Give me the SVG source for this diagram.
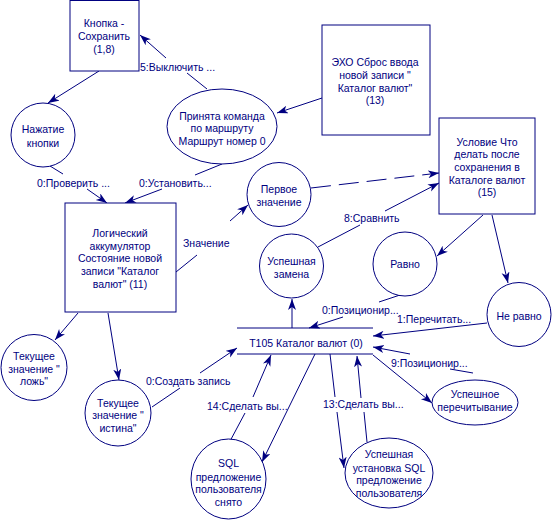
<svg xmlns="http://www.w3.org/2000/svg" width="552" height="521" viewBox="0 0 552 521">
<defs>
<marker id="ah" markerUnits="userSpaceOnUse" markerWidth="14" markerHeight="10" refX="11" refY="4" orient="auto">
<path d="M0,0 L11,4 L0,8 L3,4 z" fill="#000080"/>
</marker>
<style>
.n{fill:#fff;stroke:#000080;stroke-width:1}
.t{font-family:"Liberation Sans",Arial,sans-serif;font-size:10.5px;fill:#000080;text-anchor:middle}
.l{font-family:"Liberation Sans",Arial,sans-serif;font-size:10.5px;fill:#000080}
.c{fill:none;stroke:#000080;stroke-width:1}
.a{marker-end:url(#ah)}
.d{stroke-dasharray:20,8}
</style>
</defs>
<rect width="552" height="521" fill="#fff"/>

<g id="connectors">
<line class="c a" x1="99" y1="71" x2="48" y2="103"/>
<line class="c" x1="207" y1="89" x2="187" y2="73"/>
<line class="c a" x1="166" y1="58" x2="140" y2="35"/>
<line class="c a" x1="322" y1="98" x2="277" y2="113"/>
<line class="c" x1="50" y1="166" x2="63" y2="174"/>
<line class="c a" x1="87" y1="189" x2="107" y2="203"/>
<line class="c" x1="222" y1="164" x2="195" y2="175"/>
<line class="c a" x1="162" y1="189" x2="125" y2="203"/>
<line class="c" x1="176" y1="272" x2="197" y2="255"/>
<line class="c a" x1="230" y1="221" x2="248" y2="205"/>
<line class="c a d" x1="311" y1="188" x2="439" y2="173"/>
<line class="c" x1="318" y1="247" x2="360" y2="225"/>
<line class="c a" x1="385" y1="211" x2="439" y2="183"/>
<line class="c a" x1="483" y1="215" x2="437" y2="256"/>
<line class="c a" x1="492" y1="215" x2="508" y2="283"/>
<line class="c" x1="400" y1="295" x2="379" y2="302"/>
<line class="c a" x1="343" y1="317" x2="309" y2="328"/>
<line class="c a" x1="487" y1="323" x2="373" y2="336"/>
<line class="c" x1="473" y1="373" x2="450" y2="369"/>
<line class="c a" x1="410" y1="354" x2="373" y2="347"/>
<line class="c a" x1="373" y1="355" x2="432" y2="403"/>
<line class="c" x1="152" y1="407" x2="180" y2="388"/>
<line class="c a" x1="200" y1="373" x2="237" y2="348"/>
<line class="c" x1="229" y1="443" x2="245" y2="413"/>
<line class="c a" x1="253" y1="397" x2="271" y2="355"/>
<line class="c a" x1="315" y1="354" x2="262" y2="462"/>
<line class="c" x1="330" y1="354" x2="335" y2="397"/>
<line class="c a" x1="337" y1="412" x2="344" y2="468"/>
<line class="c" x1="367" y1="442" x2="364" y2="412"/>
<line class="c a" x1="361" y1="398" x2="357" y2="356"/>
<line class="c a" x1="292" y1="328" x2="292" y2="299"/>
<line class="c a" x1="78" y1="313" x2="55" y2="340"/>
<line class="c a" x1="108" y1="313" x2="119" y2="380"/>
<text class="l" x="140" y="71">5:Выключить ...</text>
<text class="l" x="37" y="187">0:Проверить ...</text>
<text class="l" x="139" y="187">0:Установить...</text>
<text class="l" x="183" y="247">Значение</text>
<text class="l" x="344" y="222">8:Сравнить</text>
<text class="l" x="322" y="314">0:Позиционир...</text>
<text class="l" x="397" y="323">1:Перечитать...</text>
<text class="l" x="391" y="367">9:Позиционир...</text>
<text class="l" x="146" y="385">0:Создать запись</text>
<text class="l" x="207" y="410">14:Сделать вы...</text>
<text class="l" x="323" y="408">13:Сделать вы...</text>
</g>

<g id="knopka">
<rect class="n" x="70" y="0.5" width="69" height="70.5"/>
<text class="t" x="104" y="27">Кнопка -</text>
<text class="t" x="104" y="40">Сохранить</text>
<text class="t" x="104" y="53">(1,8)</text>
</g>

<g id="nazhatie">
<circle class="n" cx="43" cy="135" r="32"/>
<text class="t" x="43" y="133">Нажатие</text>
<text class="t" x="43" y="147">кнопки</text>
</g>

<g id="prinyata">
<ellipse class="n" cx="222" cy="126.5" rx="55" ry="37.5"/>
<text class="t" x="222" y="120">Принята команда</text>
<text class="t" x="222" y="132">по маршруту</text>
<text class="t" x="222" y="145">Маршрут номер 0</text>
</g>

<g id="echo">
<rect class="n" x="322" y="25" width="108" height="110"/>
<text class="t" x="375" y="66">ЭХО Сброс ввода</text>
<text class="t" x="375" y="79">новой записи "</text>
<text class="t" x="375" y="92">Каталог валют"</text>
<text class="t" x="375" y="104">(13)</text>
</g>

<g id="uslovie">
<rect class="n" x="439" y="118" width="96" height="96"/>
<text class="t" x="487" y="146">Условие Что</text>
<text class="t" x="487" y="158">делать после</text>
<text class="t" x="487" y="171">сохранения в</text>
<text class="t" x="487" y="184">Каталоге валют</text>
<text class="t" x="487" y="196">(15)</text>
</g>

<g id="logich">
<rect class="n" x="65" y="203" width="111" height="109"/>
<text class="t" x="120" y="237">Логический</text>
<text class="t" x="120" y="250">аккумулятор</text>
<text class="t" x="120" y="262">Состояние новой</text>
<text class="t" x="120" y="275">записи "Каталог</text>
<text class="t" x="120" y="288">валют" (11)</text>
</g>

<g id="pervoe">
<circle class="n" cx="279" cy="194.5" r="32"/>
<text class="t" x="279" y="193">Первое</text>
<text class="t" x="279" y="206">значение</text>
</g>

<g id="zamena">
<circle class="n" cx="291.5" cy="266" r="32"/>
<text class="t" x="291.5" y="265">Успешная</text>
<text class="t" x="291.5" y="278">замена</text>
</g>

<g id="ravno">
<circle class="n" cx="405" cy="264" r="32"/>
<text class="t" x="405" y="268">Равно</text>
</g>

<g id="neravno">
<circle class="n" cx="519" cy="314.5" r="32"/>
<text class="t" x="519" y="320">Не равно</text>
</g>

<g id="t105">
<line class="c" x1="237" y1="328" x2="373" y2="328"/>
<line class="c" x1="237" y1="354" x2="373" y2="354"/>
<text class="t" x="306" y="347">Т105 Каталог валют (0)</text>
</g>

<g id="lozh">
<circle class="n" cx="34" cy="367.5" r="33"/>
<text class="t" x="34" y="360">Текущее</text>
<text class="t" x="34" y="373">значение "</text>
<text class="t" x="34" y="385">ложь"</text>
</g>

<g id="istina">
<circle class="n" cx="118" cy="413" r="33"/>
<text class="t" x="118" y="407">Текущее</text>
<text class="t" x="118" y="419">значение "</text>
<text class="t" x="118" y="432">истина"</text>
</g>

<g id="sql_snyato">
<ellipse class="n" cx="228.5" cy="479" rx="37.5" ry="40"/>
<text class="t" x="228.5" y="467">SQL</text>
<text class="t" x="228.5" y="481">предложение</text>
<text class="t" x="228.5" y="493">пользователя</text>
<text class="t" x="228.5" y="506">снято</text>
</g>

<g id="sql_ustanovka">
<ellipse class="n" cx="389" cy="473" rx="44" ry="35"/>
<text class="t" x="389" y="458">Успешная</text>
<text class="t" x="389" y="472">установка SQL</text>
<text class="t" x="389" y="484">предложение</text>
<text class="t" x="389" y="497">пользователя</text>
</g>

<g id="perechityvanie">
<ellipse class="n" cx="475" cy="402.5" rx="43" ry="22.5"/>
<text class="t" x="475" y="398">Успешное</text>
<text class="t" x="475" y="411">перечитывание</text>
</g>
</svg>
